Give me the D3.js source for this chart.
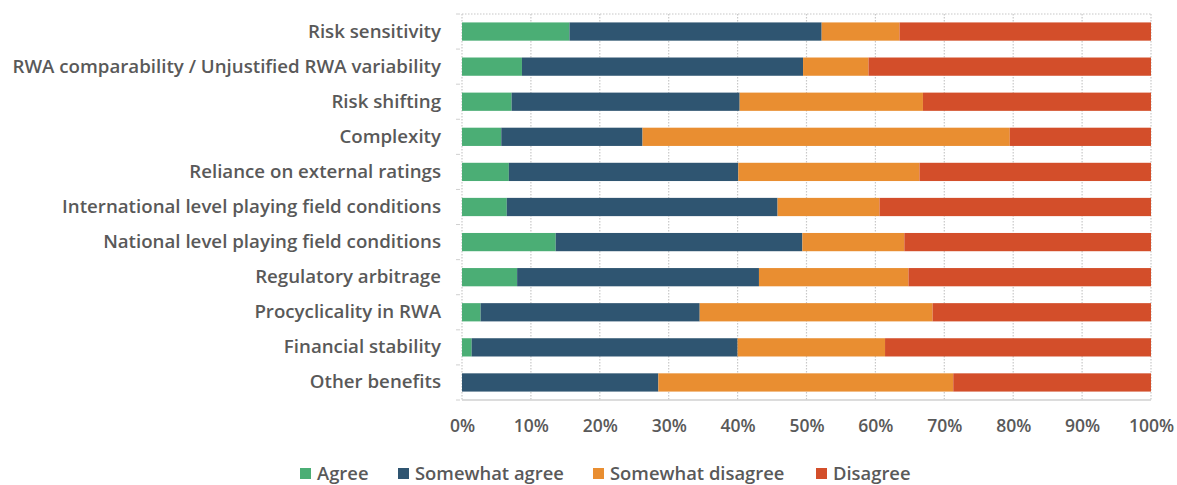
<!DOCTYPE html>
<html><head><meta charset="utf-8">
<script src="https://cdn.jsdelivr.net/npm/d3@7"></script>
<style>body{margin:0;background:#fff}svg{display:block}</style>
</head><body><svg id="c" width="1177" height="485"></svg>
<script>
const categories = ["Risk sensitivity","RWA comparability / Unjustified RWA variability","Risk shifting ","Complexity","Reliance on external ratings","International level playing field conditions","National level playing field conditions","Regulatory arbitrage","Procyclicality in RWA","Financial stability","Other benefits"];
const seriesNames = ["Agree","Somewhat agree","Somewhat disagree","Disagree"];
const agree =          [15.6, 8.7, 7.2, 5.7, 6.8, 6.5, 13.6, 8.0, 2.7, 1.4, 0];
const somewhatAgree =  [36.6, 40.8, 33.1, 20.5, 33.3, 39.3, 35.8, 35.1, 31.8, 38.6, 28.5];
const somewhatDisagree=[11.3, 9.5, 26.6, 53.3, 26.3, 14.8, 14.8, 21.7, 33.8, 21.4, 42.8];
const disagree =       [36.5, 41.0, 33.1, 20.5, 33.6, 39.4, 35.8, 35.2, 31.7, 38.6, 28.7];
const tickValues = [0,10,20,30,40,50,60,70,80,90,100];
const colors = ["#4BAE75","#2F5571","#E98E31","#D34E2A"];

const svg = d3.select("#c");
const L=462, R=1151, T=14, B=400;
const font = "'Open Sans', sans-serif";
const txt = "#595959";

const rows = categories.map((c,i)=>({cat:c, Agree:agree[i], "Somewhat agree":somewhatAgree[i], "Somewhat disagree":somewhatDisagree[i], Disagree:disagree[i]}));
const stack = d3.stack().keys(seriesNames).offset(d3.stackOffsetExpand)(rows);

const x = d3.scaleLinear().domain([0,1]).range([L,R]);
const y = d3.scaleBand().domain(categories).range([T,B]).paddingInner(0.48).paddingOuter(0.24);

// gridlines
svg.append("g").selectAll("line").data(tickValues).join("line")
  .attr("x1",d=>x(d/100)).attr("x2",d=>x(d/100)).attr("y1",T).attr("y2",B)
  .attr("stroke","#c8c8c8").attr("stroke-width",1.2).attr("stroke-dasharray","1.5,1.5");
svg.append("line").attr("x1",L).attr("x2",R).attr("y1",T).attr("y2",T)
  .attr("stroke","#c8c8c8").attr("stroke-width",1.2).attr("stroke-dasharray","1.5,1.5");
svg.append("line").attr("x1",L).attr("x2",R).attr("y1",B).attr("y2",B)
  .attr("stroke","#d0d0d0").attr("stroke-width",1.5);

// y tick marks between categories
const bounds = d3.range(categories.length+1).map(i=>T + i*(B-T)/categories.length);
svg.append("g").selectAll("line").data(bounds).join("line")
  .attr("x1",L-6).attr("x2",L-2).attr("y1",d=>d).attr("y2",d=>d)
  .attr("stroke","#d0d0d0").attr("stroke-width",1);

// bars
svg.append("g").selectAll("g").data(stack).join("g")
  .attr("fill",(d,i)=>colors[i])
  .selectAll("rect").data(d=>d).join("rect")
  .attr("x",d=>x(d[0])).attr("width",d=>Math.max(0,x(d[1])-x(d[0])))
  .attr("y",d=>y(d.data.cat)).attr("height",y.bandwidth());

// y labels
const yAxis = d3.axisLeft(y).tickSize(0).tickPadding(21);
const gy = svg.append("g").attr("transform",`translate(${L},0)`).call(yAxis);
gy.select(".domain").remove();
gy.selectAll("text").attr("fill",txt).style("font-family",font).style("font-size","18.7px").style("font-weight",600);

// x labels
const xAxis = d3.axisBottom(x).tickValues(tickValues.map(v=>v/100)).tickFormat(d=>Math.round(d*100)+"%").tickSize(0).tickPadding(20);
const gx = svg.append("g").attr("transform",`translate(0,${B})`).call(xAxis);
gx.select(".domain").remove();
gx.selectAll("text").attr("fill",txt).style("font-family",font).style("font-size","17.5px").style("font-weight",600);

// legend
const legX = [300, 398, 593, 816];
const lg = svg.append("g").selectAll("g").data(seriesNames).join("g")
  .attr("transform",(d,i)=>`translate(${legX[i]},480)`);
lg.append("rect").attr("x",0).attr("y",-12).attr("width",11).attr("height",11).attr("fill",(d,i)=>colors[i]);
lg.append("text").attr("x",17).attr("y",0).text(d=>d)
  .attr("fill",txt).style("font-family",font).style("font-size","18.4px").style("font-weight",600);
</script></body></html>
